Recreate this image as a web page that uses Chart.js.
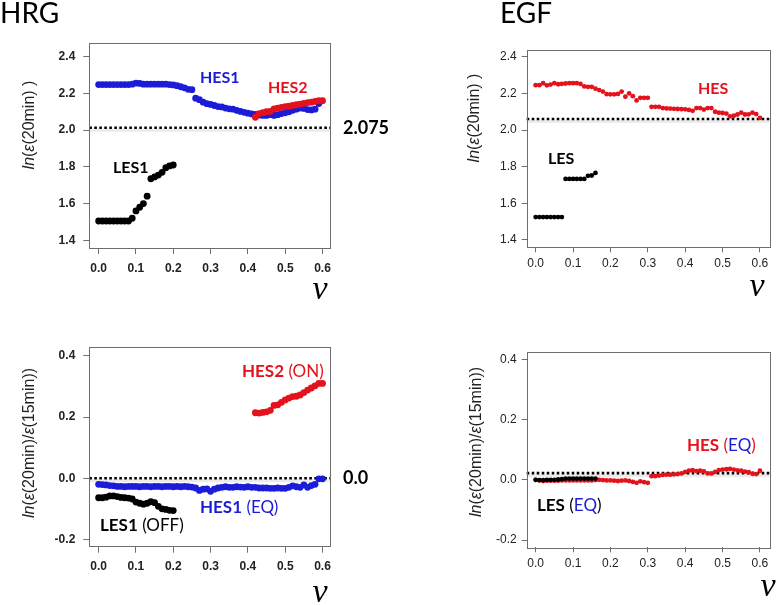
<!DOCTYPE html>
<html><head><meta charset="utf-8">
<script src="https://cdn.jsdelivr.net/npm/chart.js@4.4.1/dist/chart.umd.min.js"></script>
<style>
html,body{margin:0;padding:0;background:#fff;}
#wrap{position:relative;width:779px;height:605px;overflow:hidden;background:#fff}
canvas{position:absolute;left:0;top:0}
</style></head><body><div id="wrap"></div>
<script>
// ---------- DATA ----------
const NU = [0.00,0.01,0.02,0.03,0.04,0.05,0.06,0.07,0.08,0.09,
            0.10,0.11,0.12,0.13,0.14,0.15,0.16,0.17,0.18,0.19,
            0.20,0.21,0.22,0.23,0.24,0.25,0.26,0.27,0.28,0.29,
            0.30,0.31,0.32,0.33,0.34,0.35,0.36,0.37,0.38,0.39,
            0.40,0.41,0.42,0.43,0.44,0.45,0.46,0.47,0.48,0.49,
            0.50,0.51,0.52,0.53,0.54,0.55,0.56,0.57,0.58,0.59,0.60];
const X_TICKS = [0.0,0.1,0.2,0.3,0.4,0.5,0.6];
const Y_TICKS_TOP = [1.4,1.6,1.8,2.0,2.2,2.4];
const Y_TICKS_BOTTOM = [-0.2,0.0,0.2,0.4];

// HRG, ln(eps(20min))
const hrgTopLES1 = [1.505,1.505,1.505,1.505,1.505,1.505,1.505,1.505,1.505,1.52,1.56,1.58,1.60,1.64,1.735,1.745,1.755,1.77,1.795,1.805,1.81];
const hrgTopHES1 = [2.248,2.248,2.248,2.248,2.248,2.248,2.248,2.248,2.248,2.25,
                    2.256,2.254,2.25,2.25,2.25,2.25,2.25,2.25,2.25,2.248,
                    2.246,2.242,2.236,2.23,2.222,2.22,2.174,2.166,2.152,2.144,
                    2.14,2.134,2.128,2.126,2.12,2.116,2.114,2.108,2.102,2.097,
                    2.092,2.088,2.085,2.082,2.08,2.08,2.084,2.08,2.084,2.09,
                    2.094,2.1,2.108,2.114,2.12,2.118,2.112,2.11,2.114,2.145];
const hrgTopHES2 = [2.07,2.09,2.095,2.1,2.102,2.115,2.12,2.124,2.128,2.13,2.134,2.138,2.142,2.146,2.15,2.152,2.156,2.16,2.16];
const hrgTopThreshold = 2.013;

// EGF, ln(eps(20min))
const egfTopLES = [1.525,1.525,1.525,1.525,1.525,1.525,1.525,1.525,1.733,1.733,1.733,1.733,1.733,1.733,1.75,1.752,1.766];
const egfTopHES = [2.245,2.245,2.256,2.244,2.248,2.256,2.25,2.252,2.254,2.256,
                   2.256,2.256,2.252,2.238,2.236,2.236,2.226,2.218,2.21,2.196,
                   2.195,2.195,2.197,2.21,2.182,2.2,2.185,2.162,2.176,2.176,
                   2.176,2.127,2.127,2.127,2.12,2.118,2.117,2.116,2.115,2.114,
                   2.113,2.11,2.105,2.12,2.12,2.112,2.12,2.12,2.1,2.095,
                   2.093,2.09,2.075,2.078,2.085,2.095,2.085,2.086,2.095,2.087,2.066];
const egfTopThreshold = 2.06;

// HRG, ln(eps(20min)/eps(15min))
const hrgBotLES1 = [-0.064,-0.064,-0.062,-0.058,-0.058,-0.06,-0.063,-0.064,-0.065,-0.068,-0.078,-0.082,-0.085,-0.082,-0.077,-0.08,-0.092,-0.1,-0.102,-0.105,-0.106];
const hrgBotHES1 = [-0.02,-0.021,-0.022,-0.024,-0.025,-0.027,-0.027,-0.028,-0.027,-0.027,
                    -0.027,-0.028,-0.027,-0.027,-0.028,-0.027,-0.027,-0.028,-0.027,-0.027,
                    -0.028,-0.027,-0.028,-0.027,-0.028,-0.029,-0.032,-0.04,-0.036,-0.035,
                    -0.043,-0.036,-0.032,-0.03,-0.028,-0.03,-0.03,-0.028,-0.029,-0.03,
                    -0.028,-0.03,-0.03,-0.032,-0.032,-0.032,-0.033,-0.033,-0.032,-0.033,
                    -0.033,-0.03,-0.025,-0.028,-0.03,-0.022,-0.03,-0.024,-0.02,-0.002,-0.002];
const hrgBotHES2 = [0.214,0.213,0.215,0.217,0.222,0.238,0.24,0.248,0.256,0.262,0.267,0.268,0.272,0.28,0.288,0.295,0.302,0.31,0.31];
const hrgBotThreshold = 0.0;

// EGF, ln(eps(20min)/eps(15min))
const egfBotLES = [0,-0.001,-0.001,0,0,0,0.001,0.002,0.004,0.004,0.004,0.004,0.004,0.004,0.004,0.004,0.004];
const egfBotHES = [0.0,-0.002,-0.004,-0.003,-0.003,-0.003,-0.003,-0.002,-0.002,-0.002,
                   -0.002,-0.002,-0.002,-0.002,-0.002,-0.002,-0.001,0.0,-0.001,-0.002,
                   -0.002,-0.003,-0.004,-0.003,-0.002,-0.004,-0.007,-0.01,-0.005,-0.008,
                   -0.01,0.012,0.012,0.014,0.016,0.017,0.017,0.018,0.019,0.021,
                   0.026,0.03,0.032,0.029,0.03,0.028,0.021,0.021,0.026,0.032,
                   0.034,0.035,0.036,0.034,0.031,0.03,0.027,0.025,0.02,0.019,0.03];
const egfBotThreshold = 0.022;

// ---------- STYLE ----------
const RED = '#e3121c', BLUE = '#1c1cd8', BLACK = '#000000';
const LBL = '"Lato", "Open Sans", sans-serif';
const SANS = '"Liberation Sans", Arial, sans-serif';
const SERIF = '"Liberation Serif", "Times New Roman", serif';

function pts(values, start){ return values.map((v,i)=>({x:NU[start+i], y:v})); }

function drawRuns(ctx, runs, x, y, align){
  let total = 0;
  runs.forEach(r=>{ ctx.font = r.f; r.w = ctx.measureText(r.t).width; total += r.w; });
  let cx = align === 'center' ? x - total/2 : x;
  ctx.textBaseline = 'middle'; ctx.textAlign = 'left';
  runs.forEach(r=>{ ctx.font = r.f; ctx.fillStyle = r.c; ctx.fillText(r.t, cx, y); cx += r.w; });
}

const titleTop = [
  {t:'ln', f:'italic 16px '+SANS, c:'#222'},
  {t:'(', f:'16px '+SANS, c:'#222'},
  {t:'\u03B5', f:'italic 16px '+SANS, c:'#222'},
  {t:'(20min) )', f:'16px '+SANS, c:'#222'}];
const titleBottom = [
  {t:'ln', f:'italic 16px '+SANS, c:'#222'},
  {t:'(', f:'16px '+SANS, c:'#222'},
  {t:'\u03B5', f:'italic 16px '+SANS, c:'#222'},
  {t:'(20min)/', f:'16px '+SANS, c:'#222'},
  {t:'\u03B5', f:'italic 16px '+SANS, c:'#222'},
  {t:'(15min))', f:'16px '+SANS, c:'#222'}];

const B17 = 'bold 17px '+LBL, R17 = '17px '+LBL, B16 = 'bold 16px '+LBL;

const panels = [
  { box:{l:89.3,r:330,t:42.7,b:248}, xr:[-0.025,0.62], yr:[1.358,2.476], yTicks:Y_TICKS_TOP,
    tickFont:{family:SANS,size:12,weight:'bold'}, tickLen:6, yPad:8, xPad:7, radius:3.4,
    threshold:hrgTopThreshold,
    datasets:[{d:pts(hrgTopHES2,42),c:RED},{d:pts(hrgTopHES1,0),c:BLUE},{d:pts(hrgTopLES1,0),c:BLACK}],
    title:{runs:titleTop, x:30, y:125},
    nu:{x:320,y:290},
    texts:[
      {runs:[{t:'HRG',f:'28px '+LBL,c:'#000'}], x:0, y:14},
      {runs:[{t:'HES1',f:B16,c:BLUE}], x:200, y:78},
      {runs:[{t:'HES2',f:B16,c:RED}], x:268, y:88},
      {runs:[{t:'LES1',f:B16,c:BLACK}], x:113, y:168},
      {runs:[{t:'2.075',f:'bold 18px '+LBL,c:'#000'}], x:343, y:128}
    ]},
  { box:{l:526.7,r:769.3,t:50,b:247.3}, xr:[-0.024,0.625], yr:[1.36,2.437], yTicks:Y_TICKS_TOP,
    tickFont:{family:SANS,size:12,weight:'normal'}, tickLen:5, yPad:5, xPad:4, radius:2.4,
    threshold:egfTopThreshold,
    datasets:[{d:pts(egfTopHES,0),c:RED},{d:pts(egfTopLES,0),c:BLACK}],
    title:{runs:titleTop, x:475, y:118},
    nu:{x:757,y:287},
    texts:[
      {runs:[{t:'EGF',f:'28px '+LBL,c:'#000'}], x:500, y:14},
      {runs:[{t:'HES',f:B16,c:RED}], x:698, y:89},
      {runs:[{t:'LES',f:B16,c:BLACK}], x:548, y:159}
    ]},
  { box:{l:89.3,r:330,t:347.3,b:546.7}, xr:[-0.025,0.62], yr:[-0.224,0.428], yTicks:Y_TICKS_BOTTOM,
    tickFont:{family:SANS,size:12,weight:'bold'}, tickLen:6, yPad:8, xPad:7, radius:3.4,
    threshold:hrgBotThreshold,
    datasets:[{d:pts(hrgBotHES2,42),c:RED},{d:pts(hrgBotHES1,0),c:BLUE},{d:pts(hrgBotLES1,0),c:BLACK}],
    title:{runs:titleBottom, x:30, y:443},
    nu:{x:320,y:593},
    texts:[
      {runs:[{t:'HES2',f:B17,c:RED},{t:' (ON)',f:R17,c:RED}], x:242, y:372},
      {runs:[{t:'HES1',f:B17,c:BLUE},{t:' (EQ)',f:R17,c:BLUE}], x:200, y:508},
      {runs:[{t:'LES1',f:B17,c:BLACK},{t:' (OFF)',f:R17,c:BLACK}], x:100, y:526},
      {runs:[{t:'0.0',f:'bold 18px '+LBL,c:'#000'}], x:343, y:478}
    ]},
  { box:{l:526.7,r:769.3,t:351.7,b:547.3}, xr:[-0.024,0.625], yr:[-0.224,0.425], yTicks:Y_TICKS_BOTTOM,
    tickFont:{family:SANS,size:12,weight:'normal'}, tickLen:5, yPad:5, xPad:4, radius:2.4,
    threshold:egfBotThreshold,
    datasets:[{d:pts(egfBotLES,0),c:BLACK},{d:pts(egfBotHES,0),c:RED}],
    title:{runs:titleBottom, x:477, y:442},
    nu:{x:768,y:587},
    texts:[
      {runs:[{t:'HES',f:B17,c:RED},{t:' (',f:R17,c:RED},{t:'EQ',f:R17,c:BLUE},{t:')',f:R17,c:RED}], x:687, y:446},
      {runs:[{t:'LES',f:B17,c:BLACK},{t:' (',f:R17,c:BLACK},{t:'EQ',f:R17,c:BLUE},{t:')',f:R17,c:BLACK}], x:537, y:506}
    ]}
];

const W = 779, H = 605, YW = 60, XH = 40;
const wrap = document.getElementById('wrap');

panels.forEach((p, idx)=>{
  const cv = document.createElement('canvas');
  cv.width = W; cv.height = H; cv.style.width = W+'px'; cv.style.height = H+'px';
  wrap.appendChild(cv);
  const deco = {
    id:'deco'+idx,
    beforeDatasetsDraw(chart){
      const ctx = chart.ctx, a = chart.chartArea, ys = chart.scales.y.getPixelForValue(p.threshold);
      ctx.save();
      ctx.strokeStyle = 'rgba(0,0,0,0.08)'; ctx.lineWidth = 3; ctx.setLineDash([]);
      ctx.beginPath(); ctx.moveTo(a.left, ys+2.5); ctx.lineTo(a.right, ys+2.5); ctx.stroke();
      ctx.strokeStyle = '#000'; ctx.lineWidth = 2.6; ctx.setLineDash([2.6,2.4]);
      ctx.beginPath(); ctx.moveTo(a.left, ys); ctx.lineTo(a.right, ys); ctx.stroke();
      ctx.restore();
    },
    afterDraw(chart){
      const ctx = chart.ctx, a = chart.chartArea;
      ctx.save();
      ctx.strokeStyle = '#6e6e6e'; ctx.lineWidth = 1;
      ctx.strokeRect(Math.round(a.left)+0.5, Math.round(a.top)+0.5, Math.round(a.right-a.left), Math.round(a.bottom-a.top));
      ctx.save(); ctx.translate(p.title.x, p.title.y); ctx.rotate(-Math.PI/2);
      drawRuns(ctx, p.title.runs, 0, 0, 'center'); ctx.restore();
      drawRuns(ctx, [{t:'\u03BD', f:'italic 34px '+SERIF, c:'#000'}], p.nu.x, p.nu.y, 'center');
      p.texts.forEach(t=>drawRuns(ctx, t.runs, t.x, t.y, 'left'));
      ctx.restore();
    }
  };
  new Chart(cv, {
    type:'scatter',
    data:{ datasets: p.datasets.map(ds=>({data:ds.d, backgroundColor:ds.c, borderColor:ds.c,
      pointRadius:p.radius, pointBorderWidth:0, pointHoverRadius:p.radius, showLine:false})) },
    options:{
      responsive:false, animation:false, devicePixelRatio:1,
      events:[],
      layout:{ padding:{ left:p.box.l-YW, right:W-p.box.r, top:p.box.t, bottom:H-p.box.b-XH } },
      plugins:{ legend:{display:false}, tooltip:{enabled:false}, title:{display:false} },
      scales:{
        x:{ type:'linear', min:p.xr[0], max:p.xr[1],
            afterBuildTicks(s){ s.ticks = X_TICKS.map(v=>({value:v})); },
            afterFit(s){ s.height = XH; },
            border:{display:false},
            grid:{ drawOnChartArea:false, drawTicks:true, tickLength:p.tickLen, color:'#6e6e6e' },
            ticks:{ autoSkip:false, maxRotation:0, padding:p.xPad, color:'#222', font:p.tickFont,
                    callback:(v)=>Number(v).toFixed(1) } },
        y:{ type:'linear', min:p.yr[0], max:p.yr[1],
            afterBuildTicks(s){ s.ticks = p.yTicks.map(v=>({value:v})); },
            afterFit(s){ s.width = YW; },
            border:{display:false},
            grid:{ drawOnChartArea:false, drawTicks:true, tickLength:p.tickLen, color:'#6e6e6e' },
            ticks:{ autoSkip:false, padding:p.yPad, color:'#222', font:p.tickFont,
                    callback:(v)=>Number(v).toFixed(1) } }
      }
    },
    plugins:[deco]
  });
});
</script></body></html>
